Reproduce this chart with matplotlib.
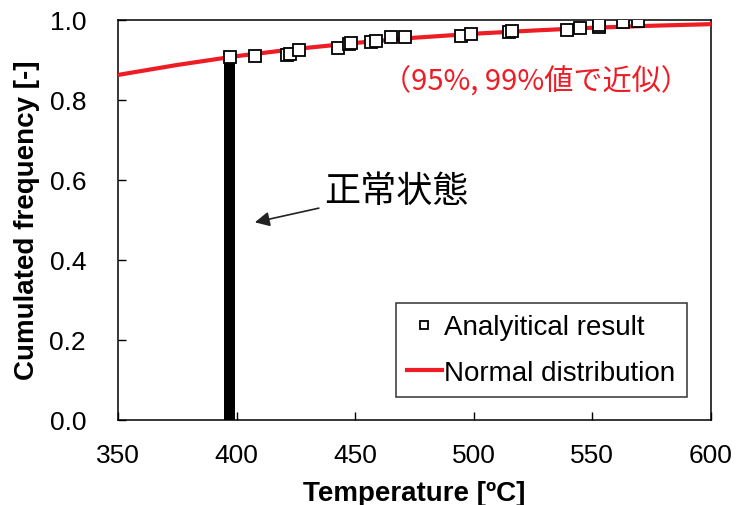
import matplotlib.pyplot as plt

plt.rcParams['font.family'] = ['Liberation Sans', 'Noto Sans CJK JP', 'DejaVu Sans']

# analytical result
result_temp = [397.1, 407.7, 421.3, 422.4, 426.2, 442.7, 447.6, 448.3, 456.8, 458.9,
               464.9, 470.8, 494.7, 498.9, 514.7, 516.1, 539.5, 544.9, 552.9, 552.9,
               563.0, 569.4]
result_freq = [0.9075, 0.910, 0.9125, 0.914, 0.924, 0.9285, 0.939, 0.941, 0.9435, 0.9475,
               0.956, 0.956, 0.960, 0.964, 0.9685, 0.971, 0.974, 0.979, 0.982, 0.9875,
               0.995, 0.9975]

# steady-state cases: stacked column of results at about 397 C
steady_temp = 397.0
steady_freq = 0.905

# normal distribution fitted with the 95% / 99% values
normal_temp = [350, 375, 400, 425, 450, 475, 500, 525, 550, 575, 600]
normal_freq = [0.862, 0.887, 0.909, 0.927, 0.942, 0.955, 0.965, 0.973, 0.980, 0.985, 0.989]

fig = plt.figure(figsize=(7.44, 5.06), dpi=100)
ax = fig.add_axes([0.1586, 0.1686, 0.7970, 0.7904])

ax.bar(steady_temp, steady_freq, width=5.0, color='black', zorder=2)
ax.plot(normal_temp, normal_freq, color='#ee1c25', lw=3, zorder=3, label='Normal distribution')
ax.plot(result_temp, result_freq, 's', ms=8.5, mfc='white', mec='black', mew=1.3,
        ls='none', zorder=4, label='Analyitical result')

ax.set_xlim(350, 600)
ax.set_ylim(0, 1.0)
ax.set_xticks([350, 400, 450, 500, 550, 600])
ax.set_yticks([0.0, 0.2, 0.4, 0.6, 0.8, 1.0])
ax.set_yticklabels(['0.0', '0.2', '0.4', '0.6', '0.8', '1.0'])
ax.tick_params(direction='in', length=6, width=1, labelsize=19)
ax.tick_params(axis='x', pad=17)
ax.tick_params(axis='y', pad=23)
for s in ax.spines.values():
    s.set_linewidth(1.1)

ax.set_xlabel('Temperature [ºC]', fontsize=20, fontweight='bold', labelpad=9)
ax.set_ylabel('Cumulated frequency [-]', fontsize=20, fontweight='bold', labelpad=7)

ax.annotate('正常状態', xy=(407.7, 0.4935), xytext=(437, 0.572),
            fontsize=26, family=['Noto Sans CJK JP'], va='center', ha='left',
            arrowprops=dict(arrowstyle='-|>', color='#222222', lw=1.2,
                            mutation_scale=22, shrinkA=2, shrinkB=0))
ax.text(526, 0.845, '（95%, 99%値で近似）', color='#ee1c25', fontsize=21,
        family=['Noto Sans CJK JP'], ha='center', va='center')

handles, labels = ax.get_legend_handles_labels()
leg = ax.legend(handles[::-1], labels[::-1], loc='lower right', bbox_to_anchor=(0.959, 0.057),
                borderaxespad=0, fontsize=20, frameon=True, fancybox=False, edgecolor='black',
                handlelength=1.25, handletextpad=0.1, markerscale=0.75, borderpad=0.4,
                labelspacing=0.7)
leg.get_frame().set_linewidth(1.1)

fig.savefig('out.png', dpi=100)
